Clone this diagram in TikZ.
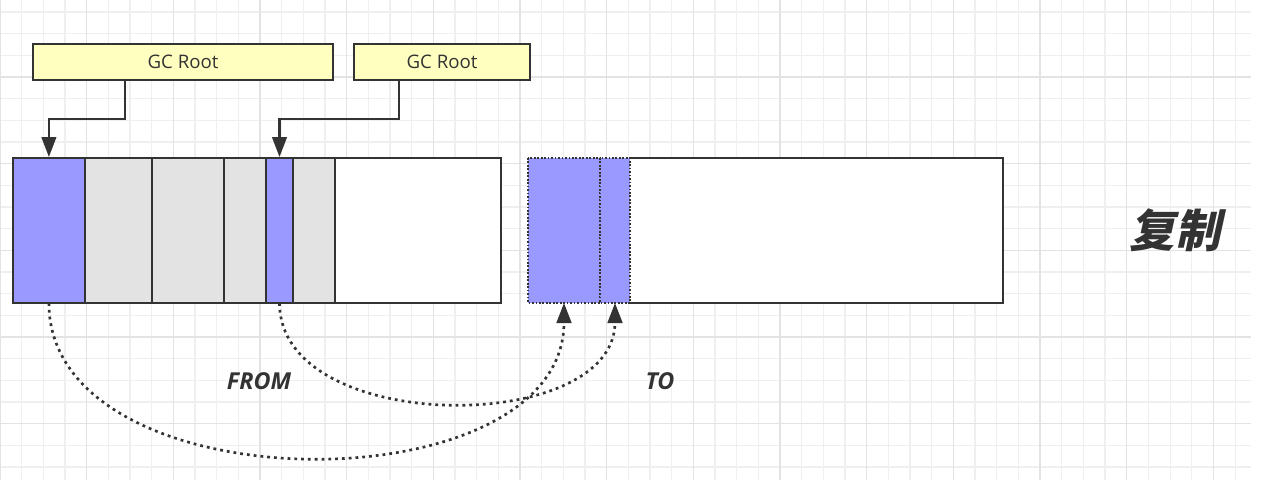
\documentclass[tikz,border=0pt]{standalone}
\usepackage{fontspec}
\setsansfont{Open Sans}
\newfontfamily\cjk{Noto Sans CJK SC}[FakeSlant=0.22, BoldFeatures={FakeSlant=0.22}]
\usetikzlibrary{calc, positioning}
\usetikzlibrary{arrows.meta}

\definecolor{objblue}{HTML}{9999FF}
\definecolor{deadgray}{HTML}{E3E3E3}
\definecolor{rootyellow}{HTML}{FFFFC0}
\definecolor{inkgray}{HTML}{333333}
\definecolor{gridlight}{HTML}{EFEFEF}
\definecolor{gridmid}{HTML}{E3E3E3}

\begin{document}
\begin{tikzpicture}[x=0.75pt, y=-0.75pt,
  rootbox/.style={draw=inkgray, line width=1.5pt, fill=rootyellow, minimum height=27pt,
    font=\sffamily\fontsize{14}{16}\selectfont, text=inkgray},
  cellline/.style={draw=inkgray, line width=1.6pt},
  copycell/.style={draw=inkgray, line width=1.2pt, dash pattern=on 1.3pt off 1.3pt},
  refarrow/.style={draw=inkgray, line width=1.6pt, -{Triangle[length=15pt,width=11pt]}},
  copyarrow/.style={draw=inkgray, line width=2pt, dash pattern=on 2.1pt off 3pt,
    -{Triangle[length=15pt,width=11pt]}},
  spacelabel/.style={font=\sffamily\bfseries\itshape\fontsize{17.5}{20}\selectfont, text=inkgray}]
\def\ytop{158}
\def\ybot{303}

\useasboundingbox (0,0) rectangle (1263,480);
\fill[white] (0,0) rectangle (1263,480);

\foreach \i in {0,...,57}
  \draw[gridlight, line width=0.8pt] ({\i*21.667},0) -- ({\i*21.667},480);
\foreach \j in {0,...,21}
  \draw[gridlight, line width=0.8pt] (0,{12+\j*21.667}) -- (1251,{12+\j*21.667});
\foreach \i in {0,...,14}
  \draw[gridmid, line width=1pt] ({\i*86.667},0) -- ({\i*86.667},480);
\foreach \j in {0,...,4}
  \draw[gridmid, line width=1pt] (0,{77+\j*86.667}) -- (1251,{77+\j*86.667});

\coordinate (obj1top) at (48.9,157);
\coordinate (obj2top) at (279.5,157);
\coordinate (obj1bot) at (48.9,\ybot);
\coordinate (obj2bot) at (279.5,\ybot);
\coordinate (copy1bot) at (564,\ybot);
\coordinate (copy2bot) at (615,\ybot);

\foreach \xa/\xb/\col in {12.7/85/objblue, 85/152/deadgray, 152/224/deadgray, 224/266/deadgray,
    266/293/objblue, 293/335/deadgray, 335/501/white}
  \draw[cellline, fill=\col] (\xa,\ytop) rectangle (\xb,\ybot);

\fill[white] (528,\ytop) rectangle (1003,\ybot);
\draw[cellline] (630,\ytop) -- (1003,\ytop) -- (1003,\ybot) -- (630,\ybot);
\draw[copycell, fill=objblue] (528,\ytop) rectangle (600,\ybot);
\draw[copycell, fill=objblue] (600,\ytop) rectangle (630,\ybot);

\node[rootbox, minimum width=225pt] (root1) at (183,62) {GC Root};
\node[rootbox, minimum width=132pt] (root2) at (442,62) {GC Root};

\draw[refarrow] ($(root1.south west)+(93,0)$) -- ++(0,38) -| (obj1top);
\draw[refarrow] ($(root2.south west)+(46,0)$) -- ++(0,38) -| (obj2top);

\draw[copyarrow] (obj1bot) .. controls +(0,205) and +(0,205) .. (copy1bot);
\draw[copyarrow] (obj2bot) .. controls +(0,133) and +(0,133) .. (copy2bot);

\node[spacelabel] (fromlabel) at (259,381) {FROM};
\node[spacelabel] (tolabel) at (660,381) {TO};
\node[font=\cjk\bfseries\fontsize{34}{38}\selectfont, text=inkgray] (copytitle) at (1175,230) {复制};
\end{tikzpicture}
\end{document}
